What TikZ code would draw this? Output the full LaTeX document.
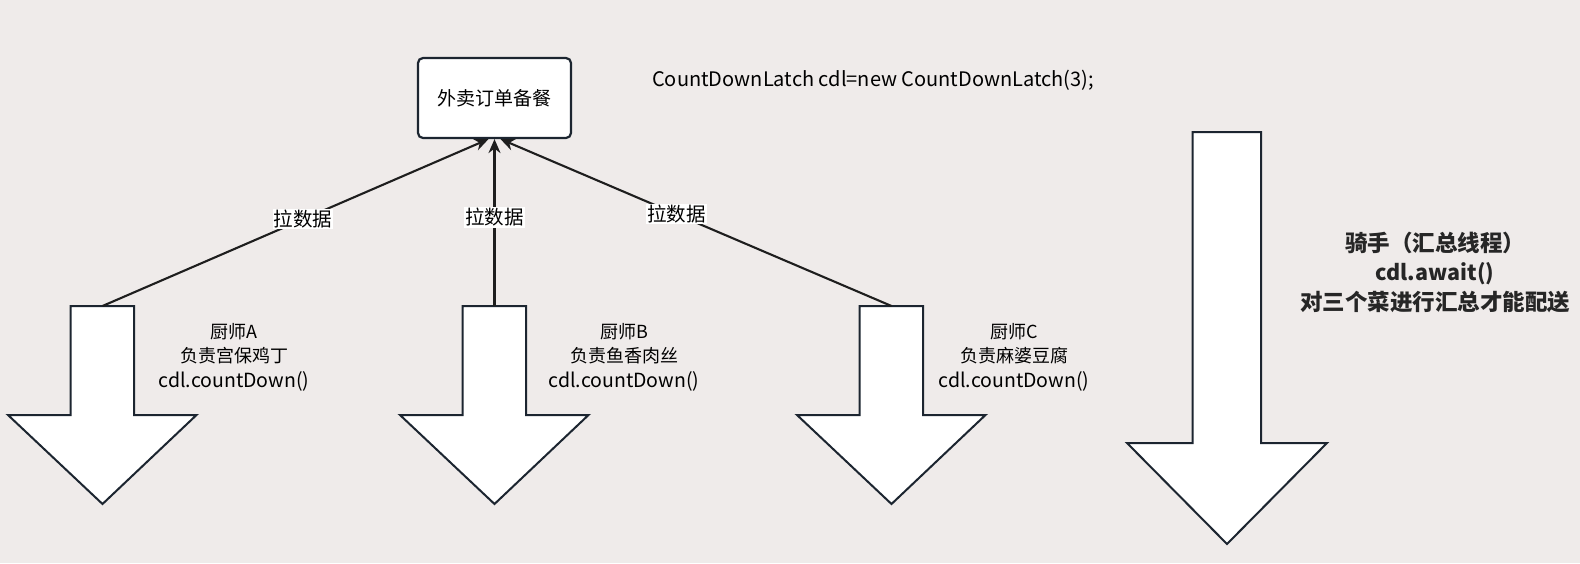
\documentclass[tikz,border=0pt]{standalone}
\usepackage{fontspec}
\setmainfont{Noto Sans CJK SC}
\usetikzlibrary{arrows.meta}
\definecolor{bg}{HTML}{EFEBEA}
\definecolor{ink}{HTML}{1C2530}
\definecolor{lineink}{HTML}{1E1E1E}
\begin{document}
\begin{tikzpicture}[x=1pt,y=-1pt,
  bigarrow/.style={draw=ink,fill=white,line width=2pt,line join=miter},
  boxnode/.style={draw=ink,fill=white,line width=2.2pt,rounded corners=5pt,minimum width=153pt,minimum height=80pt,inner sep=0pt,font=\fontsize{19}{24}\selectfont},
  conn/.style={draw=lineink,line width=2.1pt,-{Stealth[length=14pt,width=12pt]}},
  elabel/.style={fill=white,inner sep=1pt,font=\fontsize{19.5}{22}\selectfont,text=black},
  chef/.style={align=center,font=\fontsize{18}{24.5}\selectfont,text=black,inner sep=0pt},
  rider/.style={align=center,font=\fontsize{22.5}{29.5}\selectfont\bfseries,text=black!85,inner sep=0pt}
]
\fill[bg] (0,0) rectangle (1580,563);
\useasboundingbox (0,0) rectangle (1580,563);

% order box
\node[boxnode] (box) at (494.5,98) {外卖订单备餐};
\node[anchor=west,inner sep=0pt,font=\fontsize{20}{24}\selectfont] (decl) at (652,80) {CountDownLatch cdl=new CountDownLatch(3);};

% down arrows
\draw[bigarrow] (70.5,306) -- (134,306) -- (134,415) -- (196.5,415) -- (102.5,504) -- (8,415) -- (70.5,415) -- cycle;
\coordinate (atop) at (102.5,306);
\draw[bigarrow] (462.5,306) -- (526,306) -- (526,415) -- (588.5,415) -- (494.5,504) -- (400,415) -- (462.5,415) -- cycle;
\coordinate (btop) at (494.5,306);
\draw[bigarrow] (859.5,306) -- (923,306) -- (923,415) -- (985.5,415) -- (891.5,504) -- (797,415) -- (859.5,415) -- cycle;
\coordinate (ctop) at (891.5,306);
\draw[bigarrow] (1192.5,132) -- (1261,132) -- (1261,443) -- (1327,443) -- (1227,544) -- (1127,443) -- (1192.5,443) -- cycle;

% connectors
\draw[conn] (atop) -- ([xshift=-6pt]box.south) node[elabel,pos=0.52] (la) {拉数据};
\draw[conn] (btop) -- (box.south) node[elabel,pos=0.53] (lb) {拉数据};
\draw[conn] (ctop) -- ([xshift=6pt]box.south) node[elabel,pos=0.55] (lc) {拉数据};

% chef texts
\node[chef] (ta) at (234,357) {厨师A\\负责宫保鸡丁\\{\fontsize{19.5}{24.5}\selectfont cdl.countDown()}};
\node[chef] (tb) at (624,357) {厨师B\\负责鱼香肉丝\\{\fontsize{19.5}{24.5}\selectfont cdl.countDown()}};
\node[chef] (tc) at (1014,357) {厨师C\\负责麻婆豆腐\\{\fontsize{19.5}{24.5}\selectfont cdl.countDown()}};

% rider text
\node[rider] (td) at (1435,272) {骑手（汇总线程）\\{\fontsize{21.5}{29.5}\selectfont cdl.await()}\\对三个菜进行汇总才能配送};
\end{tikzpicture}
\end{document}
